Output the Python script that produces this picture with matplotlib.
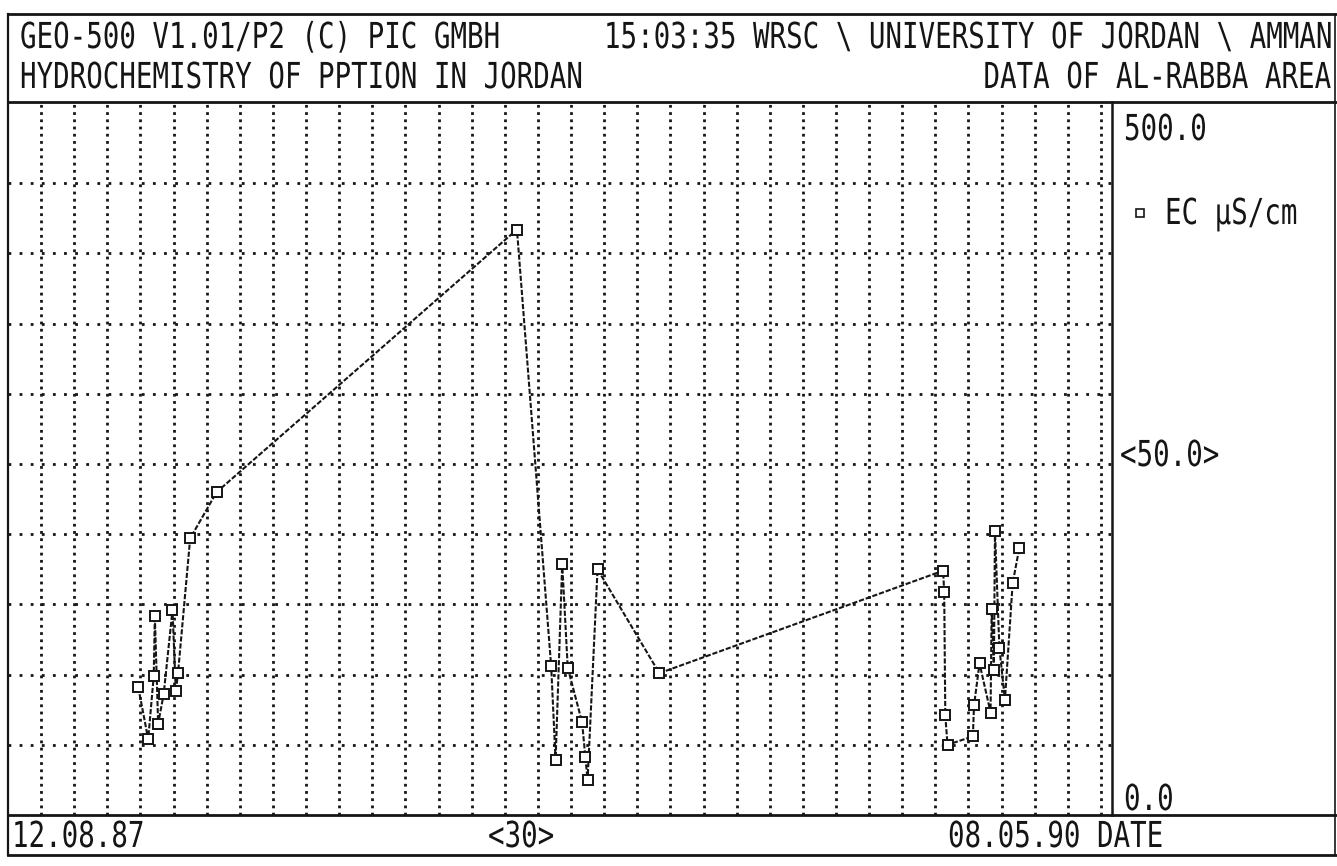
import matplotlib
matplotlib.use("Agg")
import matplotlib.pyplot as plt
from matplotlib.lines import Line2D
from matplotlib.patheffects import AbstractPathEffect
from matplotlib.transforms import Affine2D
import pandas as pd

# --- data -------------------------------------------------------------
start_date = "1987-08-12"
end_date = "1990-05-08"

sample_dates = [
    "1987-12-08", "1987-12-17", "1987-12-22", "1987-12-23", "1987-12-26",
    "1987-12-31", "1988-01-08", "1988-01-11", "1988-01-13", "1988-01-24",
    "1988-02-17", "1988-11-15", "1988-12-16", "1988-12-20", "1988-12-26",
    "1988-12-31", "1989-01-13", "1989-01-16", "1989-01-18", "1989-01-27",
    "1989-03-24", "1989-12-06", "1989-12-07", "1989-12-08", "1989-12-10",
    "1990-01-02", "1990-01-03", "1990-01-08", "1990-01-18", "1990-01-19",
    "1990-01-21", "1990-01-22", "1990-01-26", "1990-01-31", "1990-02-07",
    "1990-02-13",
]
ec_values = [
    91, 54, 99, 142, 65, 86, 146, 88, 101, 197,
    230, 417, 106, 39, 179, 105, 66, 41, 25, 175,
    101, 174, 159, 71, 50, 56, 78, 108, 73, 147,
    103, 202, 119, 82, 165, 190,
]

y_min, y_max = 0.0, 500.0
y_step = 50.0
x_step_days = 30

header_left = ["GEO-500 V1.01/P2 (C) PIC GMBH", "HYDROCHEMISTRY OF PPTION IN JORDAN"]
header_right = ["15:03:35 WRSC \\ UNIVERSITY OF JORDAN \\ AMMAN", "DATA OF AL-RABBA AREA"]
series_label = "EC µS/cm"
x_start_label = "12.08.87"
x_end_label = "08.05.90"
x_step_label = "<30>"
x_axis_label = "DATE"
y_top_label = "500.0"
y_step_label = "<50.0>"
y_bottom_label = "0.0"

# --- geometry helpers (pixel positions on a 1337 x 866 canvas) ------------
W, H = 1337, 866


def fx(px):
    return px / W


def fy(py):
    return 1 - py / H


class TallGlyphs(AbstractPathEffect):
    """Stretch glyphs vertically about their baseline (narrow printer type)."""

    def __init__(self, sy):
        super().__init__()
        self.sy = sy

    def draw_path(self, renderer, gc, tpath, affine, rgbFace=None):
        y0 = affine.get_matrix()[1, 2]
        extra = Affine2D().translate(0, -y0).scale(1, self.sy).translate(0, y0)
        renderer.draw_path(gc, tpath, affine + extra, rgbFace)


ink = "#151515"
font = "DejaVu Sans Mono"
fs = 19.8
stretch = [TallGlyphs(1.3)]

fig = plt.figure(figsize=(W / 100, H / 100), dpi=100)
fig.patch.set_facecolor("white")

plot_left, plot_right = 8, 1112
plot_top, plot_bottom = 102, 815

ax = fig.add_axes([fx(plot_left), fy(plot_bottom),
                   fx(plot_right) - fx(plot_left), fy(plot_top) - fy(plot_bottom)])

t0 = pd.Timestamp(start_date)
days = [(pd.Timestamp(d) - t0).days for d in sample_dates]
total_days = (pd.Timestamp(end_date) - t0).days

# value 500 sits slightly below the top border
px_per_unit = 70.2 / y_step
top_value = (plot_bottom - plot_top) / px_per_unit
ax.set_xlim(0, total_days)
ax.set_ylim(y_min, top_value)

# dotted printer grid
for d in range(x_step_days, total_days, x_step_days):
    ax.axvline(d, color=ink, lw=2.0, ls=(0, (1, 1.6)), zorder=1)
v = y_min + y_step
while v < y_max - 1e-9:
    ax.axhline(v, color=ink, lw=2.0, ls=(0, (1, 3)), zorder=1)
    v += y_step

ax.plot(days, ec_values, color=ink, lw=1.5, ls=(0, (2.5, 0.9)),
        marker="s", markersize=7.8, markerfacecolor="white",
        markeredgecolor=ink, markeredgewidth=1.4, zorder=3)

for s in ax.spines.values():
    s.set_visible(False)
ax.set_xticks([])
ax.set_yticks([])
ax.patch.set_alpha(0)


# frame lines
def hline(y, x0, x1, lw=2.0):
    fig.add_artist(Line2D([fx(x0), fx(x1)], [fy(y), fy(y)], color=ink, lw=lw,
                          transform=fig.transFigure))


def vline(x, y0, y1, lw=2.0):
    fig.add_artist(Line2D([fx(x), fx(x)], [fy(y0), fy(y1)], color=ink, lw=lw,
                          transform=fig.transFigure))


hline(14, 8, 1336)
hline(102, 8, 1336)
hline(815, 8, 1336)
hline(855, 8, 1336)
vline(8, 14, 855, lw=1.6)
vline(1335, 14, 855, lw=1.2)
vline(plot_right, 102, 815, lw=1.8)

# all labels sit on their baselines, glyphs stretched upward
txt = dict(family=font, fontsize=fs, color=ink, va="baseline", path_effects=stretch)

# header
fig.text(fx(20), fy(48), header_left[0], ha="left", **txt)
fig.text(fx(20), fy(88), header_left[1], ha="left", **txt)
fig.text(fx(1330), fy(48), header_right[0], ha="right", **txt)
fig.text(fx(1330), fy(88), header_right[1], ha="right", **txt)

# footer
fig.text(fx(12), fy(847), x_start_label, ha="left", **txt)
fig.text(fx(521), fy(847), x_step_label, ha="center", **txt)
fig.text(fx(1080), fy(847), x_end_label, ha="right", **txt)
fig.text(fx(1097), fy(847), x_axis_label, ha="left", **txt)

# right-hand scale and legend
fig.text(fx(1124), fy(140), y_top_label, ha="left", **txt)
fig.text(fx(1120), fy(466), y_step_label, ha="left", **txt)
fig.text(fx(1124), fy(810), y_bottom_label, ha="left", **txt)
fig.add_artist(Line2D([fx(1140)], [fy(213)], marker="s", markersize=5.5,
                      markerfacecolor="white", markeredgecolor=ink,
                      markeredgewidth=1.2, transform=fig.transFigure))
fig.text(fx(1165), fy(224), series_label, ha="left", **txt)

fig.savefig("out.png", dpi=100, facecolor="white")
